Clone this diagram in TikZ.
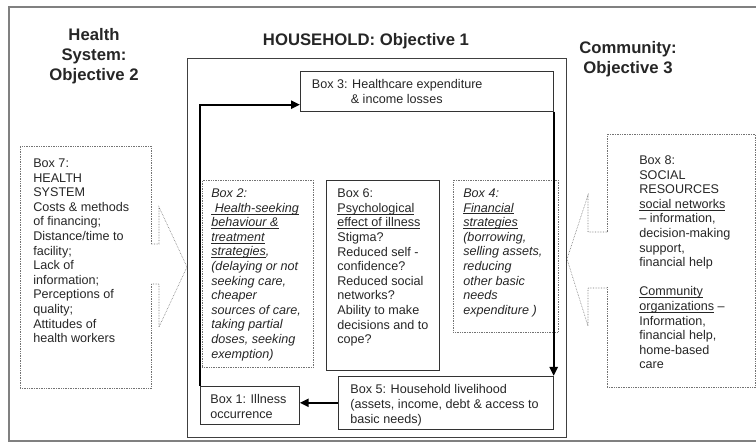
\documentclass[tikz,border=0pt]{standalone}
\usepackage{fontspec}
\setmainfont{Liberation Sans}
\usetikzlibrary{arrows.meta,calc}

\newcommand{\bodyfont}{\fontsize{12.6}{14.6}\selectfont}
\newcommand{\titlefont}{\fontsize{16.7}{20}\selectfont\bfseries}
% width, height, top gap, left gap, text
\newcommand{\boxtext}[5]{\parbox[t][#2][t]{#1}{\vspace*{#3}\raggedright\leftskip=#4\relax #5}}
\newcommand{\undl}[1]{\leavevmode\setbox0\hbox{#1}\rlap{\rule[-2pt]{\wd0}{0.6pt}}\box0\relax}

\tikzset{
  box/.style={draw=black!80, line width=0.7pt, inner sep=0pt, anchor=north west, text=black!85, font=\bodyfont},
  dotbox/.style={box, draw=black!55, densely dotted, line width=0.6pt},
  notch/.style={draw=black!55, densely dotted, line width=0.6pt},
  flow/.style={line width=2.3pt, -{Triangle[length=9pt,width=8pt]}},
  title/.style={font=\titlefont, align=center, text=black!85},
}

\begin{document}
\begin{tikzpicture}[x=1pt,y=-1pt]
    \useasboundingbox (0,0) rectangle (756,443);

    % frames
    \draw[black!50, line width=1.2pt] (9,7) rectangle (780,441);
    \draw[black!75, line width=0.9pt] (187,58) rectangle (566,437);

    % titles
    \node[title] (obj2) at (94,56.5) {Health\\System:\\Objective 2};
    \node[title] (obj1) at (366,41.5) {HOUSEHOLD: Objective 1};
    \node[title] (obj3) at (628,59.5) {Community:\\Objective 3};

    % household boxes
    \node[box] (box3) at (300,71) {\boxtext{253pt}{40pt}{8.5pt}{11.5pt}{Box 3: Healthcare expenditure\\\hspace*{39pt}\& income losses}};
    \node[dotbox] (box2) at (202,180) {\boxtext{111pt}{187pt}{8.5pt}{9pt}{\itshape Box 2:\\\undl{\ Health-seeking}\\\undl{behaviour \&}\\\undl{treatment}\\\undl{strategies},\\(delaying or not\\seeking care,\\cheaper\\sources of care,\\taking partial\\doses, seeking\\exemption)}};
    \node[box] (box6) at (326,180) {\boxtext{113pt}{190pt}{8.5pt}{11pt}{Box 6:\\\undl{Psychological}\\\undl{effect of illness}\\Stigma?\\Reduced self -\\confidence?\\Reduced social\\networks?\\Ability to make\\decisions and to\\cope?}};
    \node[dotbox] (box4) at (453,180) {\boxtext{105pt}{152pt}{8.5pt}{10pt}{\itshape Box 4:\\\undl{Financial}\\\undl{strategies}\\(borrowing,\\selling assets,\\reducing\\other basic\\needs\\expenditure )}};
    \node[box] (box1) at (200,386) {\boxtext{99pt}{38pt}{8.5pt}{10pt}{Box 1: Illness\\occurrence}};
    \node[box] (box5) at (338,376) {\boxtext{215pt}{53pt}{8.5pt}{12pt}{Box 5: Household livelihood\\(assets, income, debt \& access to\\basic needs)}};

    % health system and community
    \node[dotbox] (box7) at (20,146) {\boxtext{131pt}{242pt}{12.5pt}{13pt}{Box 7:\\HEALTH\\SYSTEM\\Costs \& methods\\of financing;\\Distance/time to\\facility;\\Lack of\\information;\\Perceptions of\\quality;\\Attitudes of\\health workers}};
    \node[dotbox] (box8) at (607,134) {\boxtext{148pt}{253pt}{21.5pt}{32pt}{Box 8:\\SOCIAL\\RESOURCES\\\undl{social networks}\\-- information,\\decision-making\\support,\\financial help\\[14.6pt]\undl{Community}\\\undl{organizations} --\\Information,\\financial help,\\home-based\\care}};

    % notched arrows into the household
    \fill[white] (150,244.5) rectangle (152.5,283.5);
    \draw[notch] (151,244) -- (159,244) -- (159,207) -- (187,267) -- (159,327) -- (159,284) -- (151,284);
    \fill[white] (605.5,232.5) rectangle (608.5,287.5);
    \draw[notch] (607,232) -- (588,232) -- (588,195) -- (567,259) -- (588,326) -- (588,288) -- (607,288);

    % flows
    \draw[flow] (box1.north west) |- ([yshift=7pt]box3.south west);
    \draw[flow] (box3.south east) -- (box5.north east);
    \draw[flow] (box5.west) -- (box5.west -| box1.east);
\end{tikzpicture}
\end{document}
